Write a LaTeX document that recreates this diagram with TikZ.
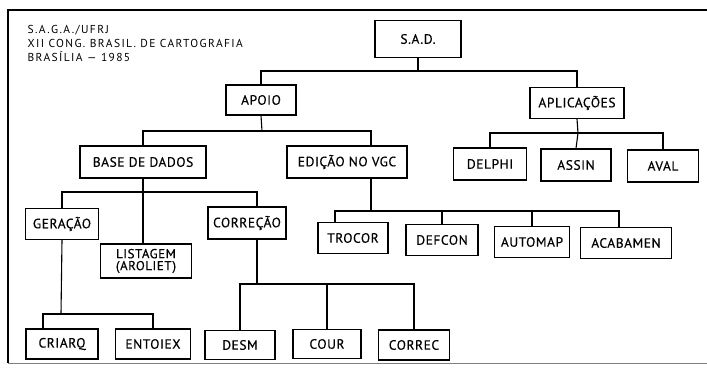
\documentclass[tikz,border=0pt]{standalone}
\usepackage{fontspec}
\setmainfont{PT Sans}
\begin{document}
\begin{tikzpicture}[x=1pt, y=-1pt, line width=1.1pt,
    box/.style={draw, minimum width=#1, minimum height=31pt, inner sep=2pt,
        font=\fontsize{13.5}{14}\selectfont\addfontfeatures{LetterSpace=4,FakeBold=0.3}},
    box/.default=70pt]
    \useasboundingbox (0,0) rectangle (707,369);
    % moldura
    \draw (707,10) -- (8,10) -- (8,363);
    \draw[gray, line width=0.8pt] (8,363) -- (707,363);
    \node[anchor=north west, align=left, inner sep=0pt,
        font=\fontsize{11.5}{14}\selectfont\addfontfeatures{LetterSpace=12}] (titulo) at (27,25)
        {S.A.G.A./UFRJ\\XII CONG. BRASIL. DE CARTOGRAFIA\\BRASÍLIA — 1985};
    % caixas
    \node[box=86pt, minimum height=37pt] (sad) at (418,39) {S.A.D.};
    \node[box=70pt, minimum height=30pt] (apoio) at (261,100) {APOIO};
    \node[box=94pt] (aplic) at (577,103) {APLICAÇÕES};
    \node[box=126pt, minimum height=32pt] (base) at (143,162) {BASE DE DADOS};
    \node[box=120pt, minimum height=32pt] (edicao) at (347,162) {EDIÇÃO NO VGC};
    \node[box=73pt, minimum height=32pt] (delphi) at (490,164) {DELPHI};
    \node[box=70pt, minimum height=32pt] (assin) at (576,165) {ASSIN};
    \node[box=71pt, minimum height=32pt] (aval) at (663,166) {AVAL};
    \node[box=73pt] (geracao) at (62,224) {GERAÇÃO};
    \node[box=91pt, minimum height=34pt, align=center,
        font=\fontsize{13}{12}\selectfont\addfontfeatures{LetterSpace=4,FakeBold=0.3}]
        (listagem) at (146,261) {LISTAGEM\\(AROLIET)};
    \node[box=78pt, minimum height=32pt] (correcao) at (247,223) {CORREÇÃO};
    \node[box=70pt] (trocor) at (353,238) {TROCOR};
    \node[box=72pt] (defcon) at (442,240) {DEFCON};
    \node[box=75pt] (automap) at (532,242) {AUTOMAP};
    \node[box=91pt] (acabamen) at (626,243) {ACABAMEN};
    \node[box=72pt, minimum height=30pt] (criarq) at (62,344) {CRIARQ};
    \node[box=75pt, minimum height=30pt] (entoiex) at (153,344) {ENTOIEX};
    \node[box=70pt, minimum height=29pt] (desm) at (240,345) {DESM};
    \node[box=68pt, minimum height=29pt] (cour) at (327,344) {COUR};
    \node[box=71pt, minimum height=30pt] (correc) at (414,345) {CORREC};
    % ligacoes
    \coordinate (b1) at (418,71);
    \draw (sad.south) -- (b1);
    \draw (apoio.north) |- (b1) -| (aplic.north);
    \coordinate (b2) at (262,131);
    \draw (apoio.south) -- (b2);
    \draw (base.north) |- (b2) -| ([xshift=24pt]edicao.north);
    \coordinate (b3) at (578,133);
    \draw (aplic.south) -- (b3);
    \draw (delphi.north) |- (b3) -| (aval.north);
    \draw (b3) -- (assin.north);
    \coordinate (b4) at (143,192);
    \draw (base.south) -- (b4);
    \draw (geracao.north) |- (b4) -| ([xshift=10pt]correcao.north);
    \draw (b4) -- (b4 |- listagem.north);
    \coordinate (b5) at (371,211);
    \draw ([xshift=24pt]edicao.south) -- (b5);
    \draw ([xshift=-18pt]trocor.north) |- (b5) -| ([xshift=-7pt]acabamen.north);
    \draw (defcon.north) -- (defcon.north |- b5);
    \draw (automap.north) -- (automap.north |- b5);
    \coordinate (b6) at (257,284);
    \draw ([xshift=10pt]correcao.south) -- (b6);
    \draw (desm.north) |- (b6) -| (correc.north);
    \draw (cour.north) -- (cour.north |- b6);
    \coordinate (b7) at (61,314);
    \draw (geracao.south) -- (b7);
    \draw ([xshift=-19pt]criarq.north) |- (b7) -| (entoiex.north);
\end{tikzpicture}
\end{document}
